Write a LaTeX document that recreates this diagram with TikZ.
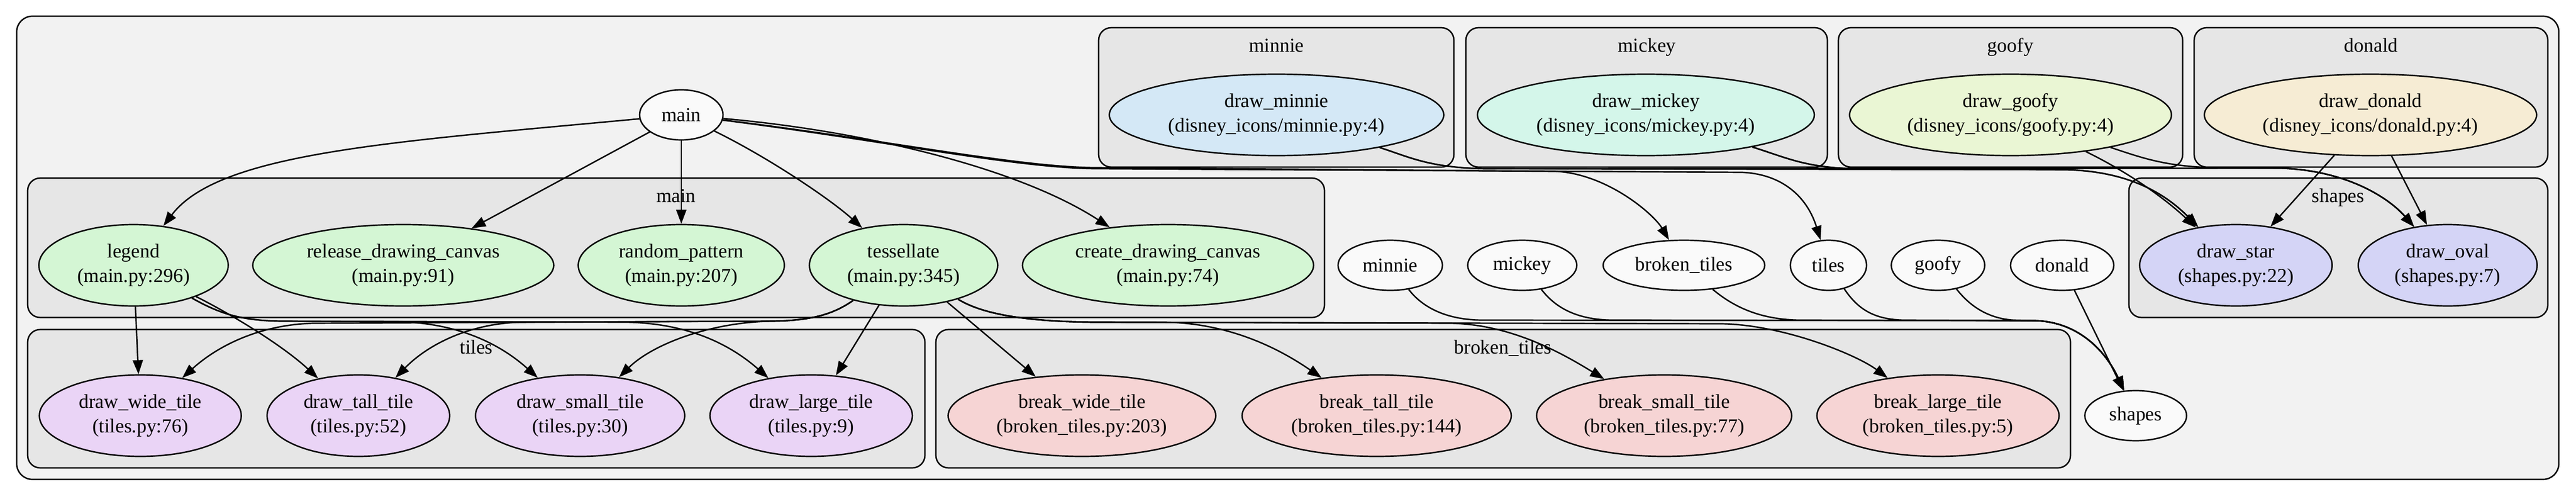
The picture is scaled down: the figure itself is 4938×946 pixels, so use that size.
\documentclass[tikz,border=0pt]{standalone}
\usepackage{fontspec}
\setmainfont{Liberation Serif}
\usetikzlibrary{arrows.meta,shapes.geometric}
\definecolor{outerfill}{HTML}{F2F2F2}
\definecolor{clusterfill}{HTML}{E6E6E6}
\definecolor{plainfill}{HTML}{FAFAFA}
\definecolor{mainfill}{HTML}{D4F6D4}
\definecolor{tilefill}{HTML}{EAD4F6}
\definecolor{brokenfill}{HTML}{F6D4D4}
\definecolor{shapefill}{HTML}{D4D4F6}
\definecolor{minniefill}{HTML}{D4E8F6}
\definecolor{mickeyfill}{HTML}{D4F6EA}
\definecolor{goofyfill}{HTML}{EAF6D4}
\definecolor{donaldfill}{HTML}{F6ECD4}
\tikzset{
  gvfont/.style={font=\fontsize{12.6}{15.7}\selectfont},
  cluster/.style={draw=black, line width=0.9pt, fill=clusterfill, rounded corners=8pt},
  outer/.style={draw=black, line width=0.9pt, fill=outerfill, rounded corners=10pt},
  fn/.style={ellipse, draw=black, line width=0.9pt, inner sep=0pt, align=center, gvfont, minimum height=52pt},
  plainmod/.style={ellipse, draw=black, line width=0.9pt, inner sep=0pt, align=center, gvfont, minimum height=32pt, fill=plainfill},
  clabel/.style={anchor=base, inner sep=0pt, gvfont},
  edge/.style={draw=black, line width=0.9pt, -{Triangle[length=9pt,width=6.5pt]}},
}
\begin{document}
\begin{tikzpicture}[x=0.33333pt,y=-0.33333pt]
\useasboundingbox (0,0) rectangle (4938,946);
% clusters
\draw[outer] (32,31) rectangle (4905,918);
\draw[cluster] (2106,53) rectangle (2787,320);
\draw[cluster] (2810,53) rectangle (3503,320);
\draw[cluster] (3524,53) rectangle (4184,320);
\draw[cluster] (4206,53) rectangle (4884,320);
\draw[cluster] (53,341) rectangle (2539,608);
\draw[cluster] (4081,341) rectangle (4884,608);
\draw[cluster] (53,631) rectangle (1773,896);
\draw[cluster] (1794,631) rectangle (3969,896);
\node[clabel] (lminnie) at (2447,99) {minnie};
\node[clabel] (lmickey) at (3157,99) {mickey};
\node[clabel] (lgoofy) at (3854,99) {goofy};
\node[clabel] (ldonald) at (4545,99) {donald};
\node[clabel] (lmain) at (1296,387) {main};
\node[clabel] (lshapes) at (4482,387) {shapes};
\node[clabel] (ltiles) at (913,677) {tiles};
\node[clabel] (lbroken) at (2881,677) {broken\_tiles};
% top row
\node[plainmod, minimum width=53.3pt] (main) at (1306,220) {main};
\node[fn, fill=minniefill, minimum width=213.7pt] (dminnie) at (2447,220) {draw\_minnie\\(disney\_icons/minnie.py:4)};
\node[fn, fill=mickeyfill, minimum width=215.3pt] (dmickey) at (3155,220) {draw\_mickey\\(disney\_icons/mickey.py:4)};
\node[fn, fill=goofyfill, minimum width=205.7pt] (dgoofy) at (3854,220) {draw\_goofy\\(disney\_icons/goofy.py:4)};
\node[fn, fill=donaldfill, minimum width=212.3pt] (ddonald) at (4544,220) {draw\_donald\\(disney\_icons/donald.py:4)};
% middle row
\node[fn, fill=mainfill, minimum width=121pt] (legend) at (256,508) {legend\\(main.py:296)};
\node[fn, fill=mainfill, minimum width=192.3pt] (release) at (773,508) {release\_drawing\_canvas\\(main.py:91)};
\node[fn, fill=mainfill, minimum width=131.7pt] (random) at (1306,508) {random\_pattern\\(main.py:207)};
\node[fn, fill=mainfill, minimum width=120.3pt] (tess) at (1732,508) {tessellate\\(main.py:345)};
\node[fn, fill=mainfill, minimum width=186pt] (create) at (2239,508) {create\_drawing\_canvas\\(main.py:74)};
\node[plainmod, minimum width=66.7pt] (mminnie) at (2665,508) {minnie};
\node[plainmod, minimum width=69.7pt] (mmickey) at (2918,508) {mickey};
\node[plainmod, minimum width=103.3pt] (mbroken) at (3228,508) {broken\_tiles};
\node[plainmod, minimum width=48.7pt] (mtiles) at (3505,508) {tiles};
\node[plainmod, minimum width=59.7pt] (mgoofy) at (3715,508) {goofy};
\node[plainmod, minimum width=66pt] (mdonald) at (3953,508) {donald};
\node[fn, fill=shapefill, minimum width=123pt] (dstar) at (4286,508) {draw\_star\\(shapes.py:22)};
\node[fn, fill=shapefill, minimum width=114.3pt] (doval) at (4692,508) {draw\_oval\\(shapes.py:7)};
% bottom row
\node[fn, fill=tilefill, minimum width=129pt] (dwide) at (269,796) {draw\_wide\_tile\\(tiles.py:76)};
\node[fn, fill=tilefill, minimum width=116.7pt] (dtall) at (687,796) {draw\_tall\_tile\\(tiles.py:52)};
\node[fn, fill=tilefill, minimum width=133.7pt] (dsmall) at (1112,796) {draw\_small\_tile\\(tiles.py:30)};
\node[fn, fill=tilefill, minimum width=129.3pt] (dlarge) at (1555,796) {draw\_large\_tile\\(tiles.py:9)};
\node[fn, fill=brokenfill, minimum width=171pt] (bwide) at (2074,796) {break\_wide\_tile\\(broken\_tiles.py:203)};
\node[fn, fill=brokenfill, minimum width=172pt] (btall) at (2639,796) {break\_tall\_tile\\(broken\_tiles.py:144)};
\node[fn, fill=brokenfill, minimum width=163pt] (bsmall) at (3190,796) {break\_small\_tile\\(broken\_tiles.py:77)};
\node[fn, fill=brokenfill, minimum width=154.7pt] (blarge) at (3715,796) {break\_large\_tile\\(broken\_tiles.py:5)};
\node[plainmod, minimum width=65pt] (mshapes) at (4094,796) {shapes};
% edges from main
\draw[edge] (main) .. controls (750,272) and (420,292) .. (legend);
\draw[edge] (main) -- (release);
\draw[edge] (main) -- (random);
\draw[edge] (main) .. controls (1470,300) and (1590,380) .. (tess);
\draw[edge] (main) .. controls (1650,250) and (1950,320) .. (create);
\draw[edge] (main) .. controls (1700,268) and (1950,320) .. (2100,321) -- (2980,328) .. controls (3080,332) and (3170,410) .. (mbroken);
\draw[edge] (main) .. controls (1700,270) and (1950,322) .. (2100,323) -- (3340,330) .. controls (3420,334) and (3465,380) .. (mtiles);
% disney functions to shapes functions
\draw[edge] (dminnie) .. controls (2700,300) and (2740,322) .. (2850,323) -- (3960,325) .. controls (4080,328) and (4150,370) .. (dstar);
\draw[edge] (dminnie) .. controls (2700,300) and (2740,322) .. (2850,323) -- (4370,322) .. controls (4500,326) and (4580,380) .. (doval);
\draw[edge] (dmickey) .. controls (3420,300) and (3460,322) .. (3560,323) -- (3960,325) .. controls (4080,328) and (4150,370) .. (dstar);
\draw[edge] (dmickey) .. controls (3420,300) and (3460,322) .. (3560,323) -- (4370,322) .. controls (4500,326) and (4580,380) .. (doval);
\draw[edge] (dgoofy) .. controls (4080,330) and (4150,380) .. (dstar);
\draw[edge] (dgoofy) .. controls (4100,300) and (4150,320) .. (4250,321) -- (4370,322) .. controls (4500,326) and (4580,380) .. (doval);
\draw[edge] (ddonald) -- (dstar);
\draw[edge] (ddonald) -- (doval);
% modules to shapes module
\draw[edge] (mminnie) .. controls (2720,580) and (2760,612) .. (2840,613) -- (3900,614) .. controls (3990,616) and (4040,680) .. (mshapes);
\draw[edge] (mmickey) .. controls (2975,580) and (3010,612) .. (3090,613) -- (3900,614) .. controls (3990,616) and (4040,680) .. (mshapes);
\draw[edge] (mbroken) .. controls (3320,585) and (3370,612) .. (3450,613) -- (3900,614) .. controls (3990,616) and (4040,680) .. (mshapes);
\draw[edge] (mtiles) .. controls (3560,590) and (3590,612) .. (3650,613) -- (3900,614) .. controls (3990,616) and (4040,680) .. (mshapes);
\draw[edge] (mgoofy) .. controls (3775,585) and (3810,610) .. (3860,613) -- (3900,614) .. controls (3990,616) and (4040,680) .. (mshapes);
\draw[edge] (mdonald) -- (mshapes);
% legend
\draw[edge] (legend) -- (dwide);
\draw[edge] (legend) .. controls (440,600) and (540,660) .. (dtall);
\draw[edge] (legend) .. controls (420,600) and (460,614) .. (540,615) -- (760,616) .. controls (880,618) and (960,660) .. (dsmall);
\draw[edge] (legend) .. controls (420,600) and (460,614) .. (540,615) -- (1200,617) .. controls (1320,619) and (1400,660) .. (dlarge);
% tessellate
\draw[edge] (tess) .. controls (1600,600) and (1560,614) .. (1480,615) -- (600,619) .. controls (500,622) and (420,660) .. (dwide);
\draw[edge] (tess) .. controls (1600,600) and (1560,614) .. (1480,615) -- (1000,617) .. controls (900,619) and (820,660) .. (dtall);
\draw[edge] (tess) .. controls (1600,600) and (1560,614) .. (1480,615) .. controls (1360,617) and (1250,660) .. (dsmall);
\draw[edge] (tess) -- (dlarge);
\draw[edge] (tess) -- (bwide);
\draw[edge] (tess) .. controls (1880,600) and (1960,616) .. (2100,617) -- (2230,617) .. controls (2370,618) and (2470,680) .. (btall);
\draw[edge] (tess) .. controls (1880,600) and (1960,616) .. (2100,617) -- (2780,619) .. controls (2900,621) and (3000,680) .. (bsmall);
\draw[edge] (tess) .. controls (1880,600) and (1960,616) .. (2100,617) -- (3300,620) .. controls (3420,622) and (3560,680) .. (blarge);
\end{tikzpicture}
\end{document}
